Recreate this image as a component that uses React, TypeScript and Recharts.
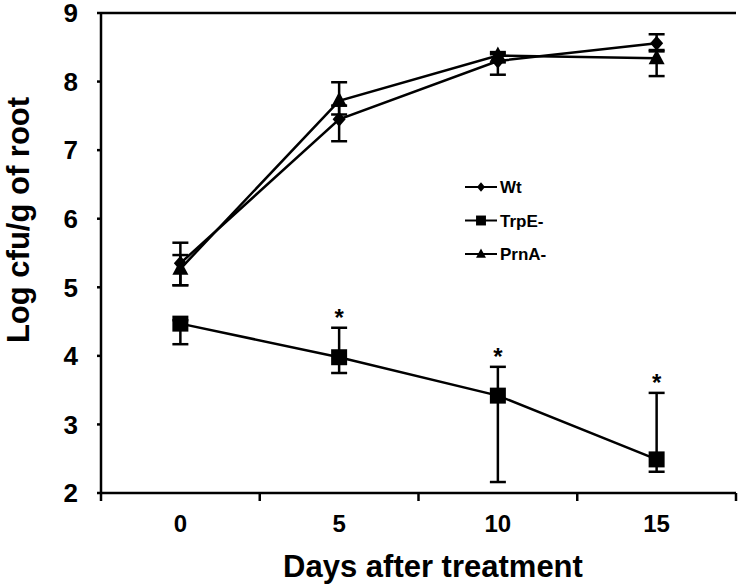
import React from "react";
import {
  LineChart, Line, XAxis, YAxis, ErrorBar, ReferenceLine,
  Legend, LabelList,
} from "recharts";

// Log cfu/g of root per strain
const DAYS = [0, 5, 10, 15];
const WT = [5.35, 7.45, 8.3, 8.56];
const WT_ERR = [[0.32, 0.3], [0.32, 0.2], [0.2, 0.1], [0.1, 0.13]];
const TRPE = [4.47, 3.98, 3.42, 2.49];
const TRPE_ERR = [[0.3, 0.05], [0.23, 0.43], [1.26, 0.42], [0.18, 0.97]];
const PRNA = [5.27, 7.72, 8.38, 8.34];
const PRNA_ERR = [[0.24, 0.2], [0.2, 0.27], [0.1, 0.05], [0.26, 0.1]];
const SIG = ["", "*", "*", "*"];

const Y_TICKS = [2, 3, 4, 5, 6, 7, 8, 9];
const X_LABELS = [0, 5, 10, 15];
const X_MARKS = [-2.5, 2.5, 7.5, 12.5, 17.5];

const FONT = '"Liberation Sans", Arial, sans-serif';
const INK = "#000";

const data = DAYS.map((d, i) => ({
  day: d,
  wt: WT[i],
  wtErr: WT_ERR[i],
  trpE: TRPE[i],
  trpEErr: TRPE_ERR[i],
  prnA: PRNA[i],
  prnAErr: PRNA_ERR[i],
  sigTop: TRPE[i] + TRPE_ERR[i][1],
  sig: SIG[i],
}));

type Shape = "diamond" | "square" | "triangle";

function markerPath(shape: Shape, cx: number, cy: number, s = 1) {
  if (shape === "diamond") {
    const w = 6.5 * s, h = 7.5 * s;
    return `M${cx},${cy - h}L${cx + w},${cy}L${cx},${cy + h}L${cx - w},${cy}Z`;
  }
  if (shape === "square") {
    const h = 8 * s;
    return `M${cx - h},${cy - h}h${2 * h}v${2 * h}h${-2 * h}Z`;
  }
  const w = 8 * s;
  return `M${cx},${cy - 9 * s}L${cx + w},${cy + 6 * s}L${cx - w},${cy + 6 * s}Z`;
}

const dot = (shape: Shape) => (p: any) => (
  <path key={`${shape}-${p.index}`} d={markerPath(shape, p.cx, p.cy)} fill={INK} />
);

const XTick = ({ x, y, payload }: any) => {
  const v = payload.value;
  if (X_LABELS.includes(v)) {
    return (
      <text x={x} y={y + 39} textAnchor="middle" fontFamily={FONT}
        fontWeight="bold" fontSize={24} fill={INK}>
        {v}
      </text>
    );
  }
  return <line x1={x} x2={x} y1={y} y2={y + 8} stroke={INK} strokeWidth={2.5} />;
};

const YTitle = () => (
  <text x={29} y={220} transform="rotate(-90, 29, 220)" textAnchor="middle"
    fontFamily={FONT} fontWeight="bold" fontSize={31} fill={INK}>
    Log cfu/g of root
  </text>
);

const XTitle = () => (
  <text x={433} y={577} textAnchor="middle" fontFamily={FONT}
    fontWeight="bold" fontSize={31} fill={INK}>
    Days after treatment
  </text>
);

const LEGEND_ITEMS: { name: string; shape: Shape }[] = [
  { name: "Wt", shape: "diamond" },
  { name: "TrpE-", shape: "square" },
  { name: "PrnA-", shape: "triangle" },
];

const LegendBox = () => (
  <svg width={120} height={100}>
    {LEGEND_ITEMS.map((it, i) => {
      const cy = 12 + i * 33.5;
      return (
        <g key={it.name}>
          <line x1={5} x2={37} y1={cy} y2={cy} stroke={INK} strokeWidth={2} />
          <path d={markerPath(it.shape, 21, cy, 0.62)} fill={INK} />
          <text x={40} y={cy + 6} fontFamily={FONT} fontWeight="bold"
            fontSize={17} fill={INK}>
            {it.name}
          </text>
        </g>
      );
    })}
  </svg>
);

const Star = (p: any) => {
  if (!p.value) return null;
  return (
    <text x={p.x} y={p.y - 2} textAnchor="middle" fontFamily={FONT}
      fontWeight="bold" fontSize={24} fill={INK}>
      {p.value}
    </text>
  );
};

export default function App() {
  return (
    <div style={{ position: "absolute", left: 0, top: 0, background: "#fff" }}>
      <LineChart width={738} height={587} data={data}
        margin={{ top: 13, right: 2, left: 0, bottom: 0 }}>
        <XAxis
          dataKey="day"
          type="number"
          domain={[-2.5, 17.5]}
          ticks={[...X_MARKS, ...X_LABELS].sort((a, b) => a - b)}
          interval={0}
          tickLine={false}
          tickSize={0}
          tickMargin={0}
          tick={<XTick />}
          axisLine={{ stroke: INK, strokeWidth: 2.5 }}
          height={94}
          label={<XTitle />}
        />
        <YAxis
          type="number"
          domain={[2, 9]}
          ticks={Y_TICKS}
          interval={0}
          width={101}
          tickSize={4}
          tickMargin={19}
          tickLine={{ stroke: INK, strokeWidth: 2.5 }}
          axisLine={{ stroke: INK, strokeWidth: 2.5 }}
          tick={{ fontFamily: FONT, fontWeight: "bold", fontSize: 26, fill: INK }}
          label={<YTitle />}
        />
        <ReferenceLine y={9} stroke={INK} strokeWidth={2.5} />
        <Legend
          layout="vertical"
          align="center"
          verticalAlign="middle"
          content={<LegendBox />}
          wrapperStyle={{ position: "absolute", left: 460, top: 175, width: 120 }}
        />
        <Line dataKey="wt" name="Wt" stroke={INK} strokeWidth={2.5}
          dot={dot("diamond")} activeDot={false} isAnimationActive={false}>
          <ErrorBar dataKey="wtErr" direction="y" width={8} stroke={INK}
            strokeWidth={2.5} isAnimationActive={false} />
        </Line>
        <Line dataKey="prnA" name="PrnA-" stroke={INK} strokeWidth={2.5}
          dot={dot("triangle")} activeDot={false} isAnimationActive={false}>
          <ErrorBar dataKey="prnAErr" direction="y" width={8} stroke={INK}
            strokeWidth={2.5} isAnimationActive={false} />
        </Line>
        <Line dataKey="trpE" name="TrpE-" stroke={INK} strokeWidth={2.5}
          dot={dot("square")} activeDot={false} isAnimationActive={false}>
          <ErrorBar dataKey="trpEErr" direction="y" width={8} stroke={INK}
            strokeWidth={2.5} isAnimationActive={false} />
        </Line>
        <Line dataKey="sigTop" stroke="none" dot={false} activeDot={false}
          legendType="none" isAnimationActive={false}>
          <LabelList dataKey="sig" content={<Star />} />
        </Line>
      </LineChart>
    </div>
  );
}
